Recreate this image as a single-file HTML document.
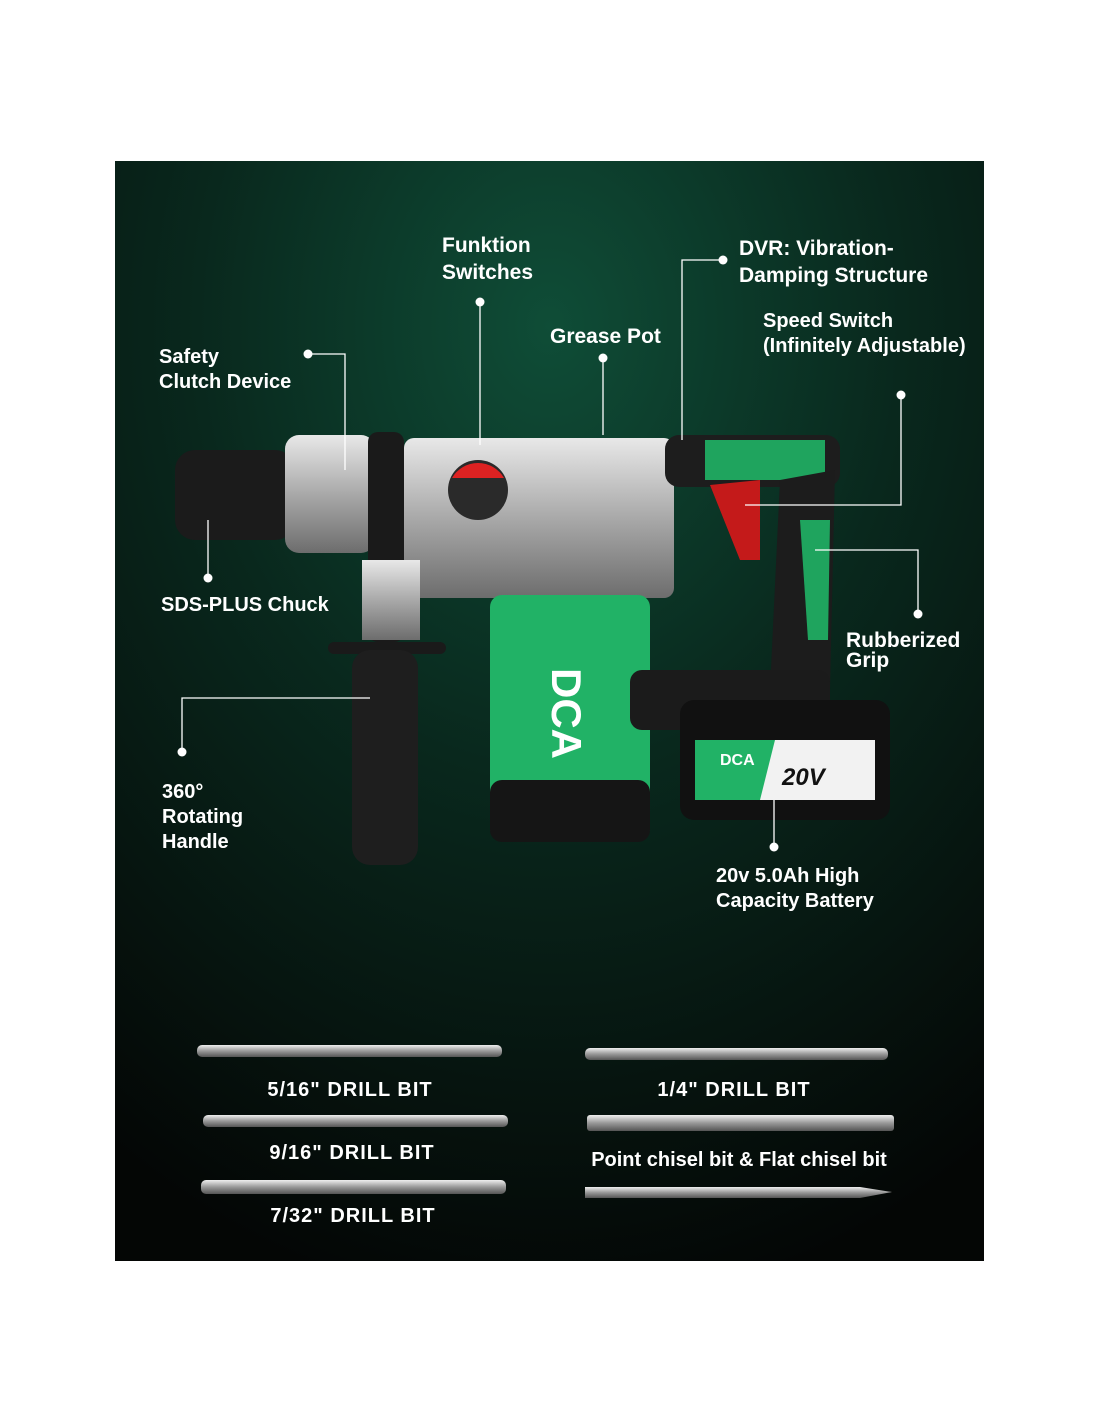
<!DOCTYPE html>
<html><head><meta charset="utf-8"><style>
html,body{margin:0;padding:0;background:#fff;}
body{width:1100px;height:1422px;position:relative;overflow:hidden;font-family:"Liberation Sans",sans-serif;}
svg{position:absolute;left:0;top:0;}
</style></head><body>
<svg width="1100" height="1422" viewBox="0 0 1100 1422">
<defs>
<radialGradient id="bg" cx="0.5" cy="0.15" r="0.9">
<stop offset="0" stop-color="#0f4d37"/><stop offset="0.45" stop-color="#09281d"/><stop offset="1" stop-color="#040605"/>
</radialGradient>
<linearGradient id="metal" x1="0" y1="0" x2="0" y2="1">
<stop offset="0" stop-color="#e8e8e8"/><stop offset="0.5" stop-color="#a9a9a9"/><stop offset="1" stop-color="#6d6d6d"/>
</linearGradient>
<linearGradient id="bit" x1="0" y1="0" x2="0" y2="1">
<stop offset="0" stop-color="#eee"/><stop offset="0.5" stop-color="#999"/><stop offset="1" stop-color="#555"/>
</linearGradient>
</defs>
<rect x="115" y="161" width="869" height="1100" fill="url(#bg)"/>
<rect x="175" y="450" width="120" height="90" rx="20" fill="#1b1b1b"/>
<rect x="285" y="435" width="90" height="118" rx="14" fill="url(#metal)"/>
<rect x="368" y="432" width="36" height="210" rx="10" fill="#1a1a1a"/>
<rect x="404" y="438" width="270" height="160" rx="10" fill="url(#metal)"/>
<circle cx="478" cy="490" r="30" fill="#2a2a2a"/>
<path d="M452 478 a30 30 0 0 1 52 0 z" fill="#d22"/>
<rect x="665" y="435" width="175" height="52" rx="14" fill="#1d1d1d"/>
<rect x="705" y="440" width="120" height="40" fill="#1fa45e"/>
<path d="M710 485 L760 480 L760 560 L740 560 Z" fill="#c41a1a"/>
<path d="M780 480 L835 470 L830 690 L770 690 Z" fill="#1c1c1c"/>
<path d="M800 520 L830 520 L828 640 L808 640 Z" fill="#1fa45e"/>
<rect x="490" y="595" width="160" height="245" rx="12" fill="#21b266"/>
<rect x="490" y="780" width="160" height="62" rx="12" fill="#151515"/>
<text font-size="42" font-weight="bold" fill="#fff" transform="translate(552,668) rotate(90)">DCA</text>
<rect x="630" y="670" width="200" height="60" rx="12" fill="#1b1b1b"/>
<rect x="680" y="700" width="210" height="120" rx="14" fill="#111"/>
<rect x="695" y="740" width="180" height="60" fill="#21b266"/>
<path d="M775 740 L875 740 L875 800 L760 800 Z" fill="#f2f2f2"/>
<text x="720" y="765" font-size="16" font-weight="bold" fill="#fff">DCA</text>
<text x="782" y="785" font-size="24" font-weight="bold" font-style="italic" fill="#111">20V</text>
<rect x="362" y="560" width="58" height="80" fill="url(#metal)"/>
<rect x="328" y="642" width="118" height="12" rx="6" fill="#1a1a1a"/>
<rect x="352" y="650" width="66" height="215" rx="18" fill="#1e1e1e"/>
<g stroke="#fff" stroke-width="1.3" fill="none">
<path d="M308 354 H345 V470"/>
<path d="M480 302 V445"/>
<path d="M603 358 V435"/>
<path d="M723 260 H682 V440"/>
<path d="M901 395 V505 H745"/>
<path d="M918 614 V550 H815"/>
<path d="M208 578 V520"/>
<path d="M182 752 V698 H370"/>
<path d="M774 847 V800"/>
</g>
<g fill="#fff">
<circle cx="308" cy="354" r="4.5"/><circle cx="480" cy="302" r="4.5"/><circle cx="603" cy="358" r="4.5"/>
<circle cx="723" cy="260" r="4.5"/><circle cx="901" cy="395" r="4.5"/><circle cx="918" cy="614" r="4.5"/>
<circle cx="208" cy="578" r="4.5"/><circle cx="182" cy="752" r="4.5"/><circle cx="774" cy="847" r="4.5"/>
</g>
<g fill="#fff" font-size="21" font-weight="bold">
<text x="442" y="252">Funktion</text><text x="442" y="279">Switches</text>
<text x="739" y="255">DVR: Vibration-</text><text x="739" y="282">Damping Structure</text>
<text x="763" y="327" font-size="20">Speed Switch</text><text x="763" y="352" font-size="20">(Infinitely Adjustable)</text>
<text x="550" y="343">Grease Pot</text>
<text x="159" y="363" font-size="20">Safety</text><text x="159" y="388" font-size="20">Clutch Device</text>
<text x="161" y="611" font-size="20">SDS-PLUS Chuck</text>
<text x="846" y="647">Rubberized</text><text x="846" y="667">Grip</text>
<text x="162" y="798" font-size="20">360°</text><text x="162" y="823" font-size="20">Rotating</text><text x="162" y="848" font-size="20">Handle</text>
<text x="716" y="882" font-size="20">20v 5.0Ah High</text><text x="716" y="907" font-size="20">Capacity Battery</text>
</g>
<g>
<rect x="197" y="1045" width="305" height="12" rx="5" fill="url(#bit)"/>
<rect x="203" y="1115" width="305" height="12" rx="5" fill="url(#bit)"/>
<rect x="201" y="1180" width="305" height="14" rx="5" fill="url(#bit)"/>
<rect x="585" y="1048" width="303" height="12" rx="5" fill="url(#bit)"/>
<rect x="587" y="1115" width="307" height="16" rx="3" fill="url(#bit)"/>
<path d="M585 1187 H860 L892 1192 L860 1198 H585 Z" fill="url(#bit)"/>
</g>
<g fill="#fff" font-size="20" font-weight="bold" text-anchor="middle">
<text x="350" y="1096" letter-spacing="1">5/16" DRILL BIT</text>
<text x="352" y="1159" letter-spacing="1">9/16" DRILL BIT</text>
<text x="353" y="1222" letter-spacing="1">7/32" DRILL BIT</text>
<text x="734" y="1096" letter-spacing="1">1/4" DRILL BIT</text>
<text x="739" y="1166">Point chisel bit &amp; Flat chisel bit</text>
</g>
</svg>
</body></html>
